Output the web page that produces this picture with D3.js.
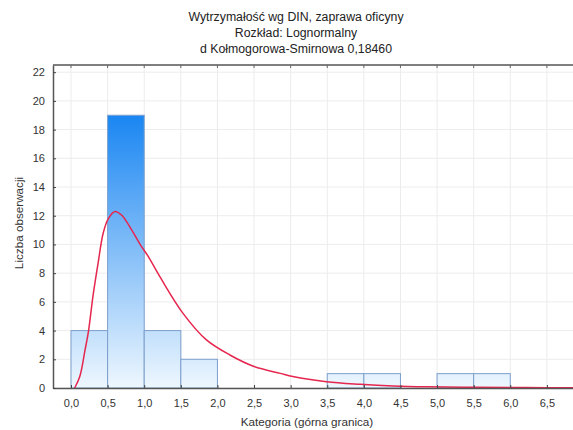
<!DOCTYPE html>
<html>
<head>
<meta charset="utf-8">
<script src="https://cdn.jsdelivr.net/npm/d3@7"></script>
<style>
  html, body { margin: 0; padding: 0; background: #ffffff; }
  svg { display: block; font-family: "Liberation Sans", Arial, sans-serif; }
</style>
</head>
<body>
<svg id="chart" width="573" height="430"></svg>
<script>
// ---- data ----
const titleLines = ["Wytrzymałość wg DIN, zaprawa oficyny", "Rozkład: Lognormalny", "d Kołmogorowa-Smirnowa 0,18460"];
const binStarts = [0.0, 0.5, 1.0, 1.5, 2.0, 2.5, 3.0, 3.5, 4.0, 4.5, 5.0, 5.5];
const binEnds   = [0.5, 1.0, 1.5, 2.0, 2.5, 3.0, 3.5, 4.0, 4.5, 5.0, 5.5, 6.0];
const counts    = [4, 19, 4, 2, 0, 0, 0, 1, 1, 0, 1, 1];
// fitted lognormal curve
const curveX = [0.05, 0.12, 0.19, 0.24, 0.30, 0.37, 0.44, 0.51, 0.60, 0.69, 0.83, 0.95, 1.05, 1.22, 1.53, 1.85, 2.17, 2.50, 2.86, 3.03, 3.49, 3.95, 4.40, 4.86, 5.50, 6.20, 6.90];
const curveY = [0.0, 0.8, 2.6, 4.0, 6.4, 8.7, 10.8, 11.8, 12.3, 12.05, 11.0, 9.95, 9.2, 7.7, 5.2, 3.35, 2.3, 1.5, 1.02, 0.8, 0.44, 0.26, 0.14, 0.08, 0.05, 0.03, 0.02];
const xTicks = [0, 0.5, 1, 1.5, 2, 2.5, 3, 3.5, 4, 4.5, 5, 5.5, 6, 6.5];
const yTicks = [0, 2, 4, 6, 8, 10, 12, 14, 16, 18, 20, 22];
const xTitle = "Kategoria (górna granica)";
const yTitle = "Liczba obserwacji";

// ---- layout ----
const svg = d3.select("#chart");
const pL = 53, pR = 578, pT = 65, pB = 388;
const x = d3.scaleLinear().domain([-0.246, 6.925]).range([pL, pR]);
const y = d3.scaleLinear().domain([0, 22.5]).range([pB, pT]);
const fmt = v => d3.format(".1f")(v).replace(".", ",");

// gradient
const defs = svg.append("defs");
const grad = defs.append("linearGradient").attr("id", "barGrad")
  .attr("gradientUnits", "userSpaceOnUse")
  .attr("x1", 0).attr("x2", 0).attr("y1", y(0)).attr("y2", y(19));
grad.append("stop").attr("offset", "0%").attr("stop-color", "#eef7fe");
grad.append("stop").attr("offset", "100%").attr("stop-color", "#1a86f2");

// plot background
svg.append("rect").attr("x", pL).attr("y", pT).attr("width", pR - pL).attr("height", pB - pT).attr("fill", "#ffffff");

// grid
svg.append("g").selectAll("line").data(xTicks).join("line")
  .attr("x1", d => x(d)).attr("x2", d => x(d)).attr("y1", pT).attr("y2", pB)
  .attr("stroke", "#ececec").attr("stroke-width", 1);
svg.append("g").selectAll("line").data(yTicks).join("line")
  .attr("x1", pL).attr("x2", pR).attr("y1", d => y(d)).attr("y2", d => y(d))
  .attr("stroke", "#ececec").attr("stroke-width", 1);

// bars
const bins = counts.map((c, i) => ({ x0: binStarts[i], x1: binEnds[i], c }));
svg.append("g").selectAll("rect").data(bins.filter(b => b.c > 0)).join("rect")
  .attr("x", d => x(d.x0)).attr("width", d => x(d.x1) - x(d.x0))
  .attr("y", d => y(d.c)).attr("height", d => y(0) - y(d.c))
  .attr("fill", "url(#barGrad)")
  .attr("stroke", "#7d9fcc").attr("stroke-width", 1);

// curve
const pts = curveX.map((v, i) => [v, curveY[i]]);
svg.append("path").datum(pts)
  .attr("d", d3.line().x(d => x(d[0])).y(d => y(d[1])).curve(d3.curveCatmullRom.alpha(0.5)))
  .attr("fill", "none").attr("stroke", "#e5264e").attr("stroke-width", 1.5);

// axes
const xAxis = svg.append("g").attr("transform", `translate(0,${pB})`)
  .call(d3.axisBottom(x).tickValues(xTicks).tickFormat(fmt).tickSizeInner(-3).tickSizeOuter(0).tickPadding(11));
const yAxis = svg.append("g").attr("transform", `translate(${pL},0)`)
  .call(d3.axisLeft(y).tickValues(yTicks).tickFormat(d3.format("d")).tickSizeInner(-3).tickSizeOuter(0).tickPadding(8));
[xAxis, yAxis].forEach(a => {
  a.select(".domain").attr("stroke", "#555").attr("stroke-width", 1.5);
  a.selectAll(".tick line").attr("stroke", "#444");
  a.selectAll(".tick text").attr("fill", "#333").style("font-size", "11px").style("font-family", "Liberation Sans, Arial, sans-serif");
});
// top border with ticks
svg.append("line").attr("x1", pL).attr("x2", pR).attr("y1", pT).attr("y2", pT).attr("stroke", "#555").attr("stroke-width", 1.5);
svg.append("g").selectAll("line").data(xTicks).join("line")
  .attr("x1", d => x(d)).attr("x2", d => x(d)).attr("y1", pT).attr("y2", pT + 3).attr("stroke", "#666");

// titles
svg.append("g").selectAll("text").data(titleLines).join("text")
  .attr("x", 296).attr("y", (d, i) => 21 + i * 16)
  .attr("text-anchor", "middle").attr("fill", "#222").style("font-size", "12.3px").text(d => d);
svg.append("text").attr("x", 307).attr("y", 426).attr("text-anchor", "middle")
  .attr("fill", "#333").style("font-size", "11.7px").text(xTitle);
svg.append("text").attr("transform", "translate(23,223) rotate(-90)").attr("text-anchor", "middle")
  .attr("fill", "#333").style("font-size", "11.7px").text(yTitle);
</script>
</body>
</html>
